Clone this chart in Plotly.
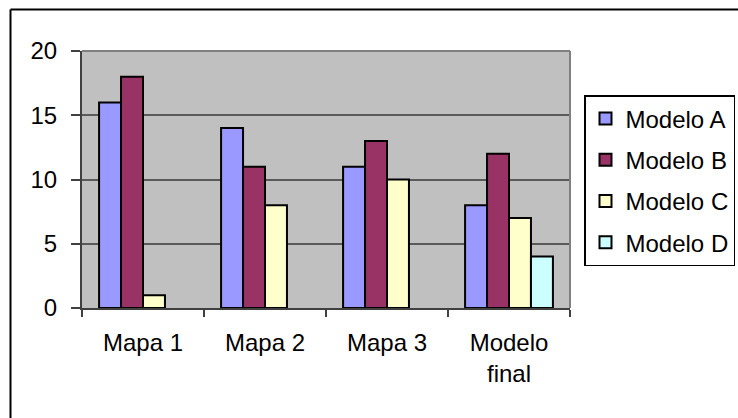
import plotly.graph_objects as go

# Categories and series values
categorias = ["Mapa 1", "Mapa 2", "Mapa 3", "Modelo<br>final"]
modelo_a = [16, 14, 11, 8]
modelo_b = [18, 11, 13, 12]
modelo_c = [1, 8, 10, 7]
modelo_d = [None, None, None, 4]

series = [
    ("Modelo A", modelo_a, "#9999FF"),
    ("Modelo B", modelo_b, "#993366"),
    ("Modelo C", modelo_c, "#FFFFCC"),
    ("Modelo D", modelo_d, "#CCFFFF"),
]

FONT = "Liberation Sans, Arial, sans-serif"
FS = 24

fig = go.Figure()
for nombre, valores, color in series:
    fig.add_trace(go.Bar(
        x=categorias, y=valores, name=nombre, legendgroup=nombre,
        marker=dict(color=color, line=dict(color="black", width=2)),
    ))

W, H = 738, 418
L, R, T, B = 82, 168, 51, 110
pw, ph = W - L - R, H - T - B

def px_x(p):
    return (p - L) / pw

def px_y(p):
    return (H - B - p) / ph

fig.update_layout(
    width=W, height=H,
    margin=dict(l=L, r=R, t=T, b=B, pad=0, autoexpand=False),
    paper_bgcolor="white",
    plot_bgcolor="#C0C0C0",
    barmode="group", bargap=0.28, bargroupgap=0,
    font=dict(family=FONT, size=FS, color="black"),
    showlegend=True,
    legend=dict(
        xref="container", yref="container",
        x=584 / W, y=1 - 95 / H, xanchor="left", yanchor="top",
        bgcolor="white", bordercolor="black", borderwidth=1.5,
        traceorder="grouped", tracegroupgap=7,
        font=dict(family=FONT, size=FS, color="black"),
    ),
    xaxis=dict(
        showgrid=False, showline=True, linecolor="#404040", linewidth=2,
        ticks="outside", tickson="boundaries", ticklen=7, tickcolor="#404040",
        tickwidth=1.5, ticklabelstandoff=12,
        tickfont=dict(family=FONT, size=FS, color="black"),
    ),
    yaxis=dict(
        range=[0, 20], dtick=5, showgrid=True, gridcolor="#5a5a5a", gridwidth=2,
        showline=True, linecolor="#404040", linewidth=2,
        ticks="outside", ticklen=9, tickcolor="#404040", tickwidth=1.5,
        ticklabelstandoff=9, zeroline=False,
        tickfont=dict(family=FONT, size=FS, color="black"),
    ),
    shapes=[
        # top and right edges of the plot area
        dict(type="line", xref="paper", yref="paper", x0=0, x1=1, y0=1, y1=1,
             line=dict(color="#808080", width=2)),
        dict(type="line", xref="paper", yref="paper", x0=1, x1=1, y0=0, y1=1,
             line=dict(color="#808080", width=2)),
        # outer chart frame
        dict(type="line", xref="paper", yref="paper",
             x0=px_x(10.5), x1=px_x(760), y0=px_y(9.5), y1=px_y(9.5),
             line=dict(color="black", width=2)),
        dict(type="line", xref="paper", yref="paper",
             x0=px_x(10.5), x1=px_x(10.5), y0=px_y(9.5), y1=px_y(440),
             line=dict(color="black", width=2)),
    ],
)

fig.write_html("out.html")
